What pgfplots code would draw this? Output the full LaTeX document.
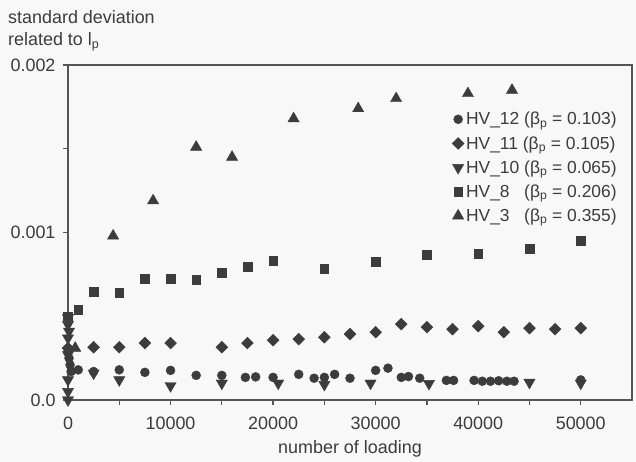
\documentclass[border=0pt]{standalone}
\usepackage{fontspec}
\setmainfont{Liberation Sans}
\usepackage{pgfplots}
\pgfplotsset{compat=1.18}
\usetikzlibrary{calc,backgrounds}
\definecolor{ink}{RGB}{60,60,60}
\definecolor{axisgray}{RGB}{85,85,85}
\definecolor{paper}{RGB}{248,248,248}

\begin{document}
\begin{tikzpicture}[font=\fontsize{18}{22}\selectfont]
\begin{axis}[
  scale only axis, width=564bp, height=335bp,
  xmin=0, xmax=55000, ymin=0, ymax=0.002,
  clip=false,
  axis line style={axisgray, line width=1.6bp},
  tick style={axisgray, line width=1.3bp},
  tick align=outside, major tick length=5bp, minor tick length=5bp,
  xtick pos=bottom, ytick pos=left,
  xtick={0,10000,20000,30000,40000,50000},
  xticklabels={0,10000,20000,30000,40000,50000},
  minor xtick={5000,15000,25000,35000,45000},
  ytick={0,0.001,0.002}, yticklabels={0.0,0.001,0.002},
  minor ytick={0.0005,0.0015},
  scaled ticks=false,
  ticklabel style={text=ink},
  x tick label style={yshift=-8bp},
  y tick label style={xshift=-4bp},
  xlabel={number of loading},
  xlabel style={text=ink, yshift=-4bp},
  ylabel={standard deviation\\related to l\textsubscript{p}},
  ylabel style={at={(rel axis cs:0,1)}, rotate=-90, anchor=south west, align=left,
    xshift=-60bp, yshift=14bp, inner sep=0pt, text=ink},
  legend cell align=left,
  legend style={at={(rel axis cs:0.982,0.87)}, anchor=north east, draw=none, fill=none,
    text=ink, font=\fontsize{17.5}{20}\selectfont, row sep=7bp,
    nodes={inner ysep=1.5bp, inner xsep=2bp}},
  mk/.style={only marks, color=ink,
    legend image code/.code={\draw[##1] plot coordinates {(0bp,0bp)};}},
]
% HV_12
\addplot[mk, mark=*, mark size=4.5bp] coordinates {
  (0,0.00029) (100,0.00025) (200,0.00021) (300,0.00017) (1000,0.00018)
  (2500,0.00017) (5000,0.00018) (7500,0.000165) (10000,0.000177) (12500,0.000147)
  (15000,0.000147) (17300,0.000135) (18300,0.000138) (20000,0.000135) (22500,0.000153)
  (24000,0.00013) (25000,0.000135) (26000,0.000153) (27500,0.00013) (30000,0.000177)
  (31200,0.00019) (32500,0.000135) (33200,0.00014) (34300,0.00013) (36900,0.000117)
  (37600,0.000117) (39600,0.000117) (40400,0.000112) (41200,0.000112) (42000,0.000115)
  (42800,0.000112) (43500,0.000112) (50000,0.00012)
};
\addlegendentry{HV\_12 (β\textsubscript{p} = 0.103)}
% HV_11
\addplot[mk, mark=square*, mark size=4.2bp, mark options={rotate=45}] coordinates {
  (0,0.00031) (2500,0.000315) (5000,0.000315) (7500,0.00034) (10000,0.00034)
  (15000,0.000315) (17500,0.00034) (20000,0.000357) (22500,0.000363) (25000,0.000375)
  (27500,0.000393) (30000,0.000405) (32500,0.000453) (35000,0.000435) (37500,0.000423)
  (40000,0.000441) (42500,0.000405) (45000,0.000429) (47500,0.000423) (50000,0.000429)
};
\addlegendentry{HV\_11 (β\textsubscript{p} = 0.105)}
% HV_10
\addplot[mk, mark=triangle*, mark size=6.5bp, mark options={rotate=180}] coordinates {
  (0,0.00049) (0,0.00045) (100,0.00041) (0,0.00037) (0,0.00027) (0,0.00012)
  (0,0.00005) (0,0.0) (2500,0.00016) (5000,0.00012) (10000,0.000085)
  (15000,0.0001) (20500,0.0001) (25000,0.000092) (29500,0.0001) (35200,0.000098)
  (45000,0.000105) (50000,0.0001)
};
\addlegendentry{HV\_10 (β\textsubscript{p} = 0.065)}
% HV_8
\addplot[mk, mark=square*, mark size=4.3bp] coordinates {
  (0,0.0005) (1000,0.000538) (2500,0.000646) (5000,0.00064) (7500,0.000724)
  (10000,0.000724) (12500,0.000718) (15000,0.00076) (17500,0.000796) (20000,0.000832)
  (25000,0.000784) (30000,0.000826) (35000,0.000868) (40000,0.000874) (45000,0.000904)
  (50000,0.000952)
};
\addlegendentry{HV\_8\phantom{0} (β\textsubscript{p} = 0.206)}
% HV_3
\addplot[mk, mark=triangle*, mark size=6.5bp] coordinates {
  (700,0.00031) (4400,0.00098) (8300,0.00119) (12500,0.00151) (16000,0.00145)
  (22000,0.00168) (28300,0.00174) (32000,0.0018) (39000,0.00183) (43300,0.00185)
};
\addlegendentry{HV\_3\phantom{0} (β\textsubscript{p} = 0.355)}
\end{axis}
\pgfresetboundingbox
\begin{scope}[on background layer]
\fill[paper] ($(current axis.south west)+(-68bp,-62bp)$) rectangle ($(current axis.north east)+(4bp,65bp)$);
\end{scope}
\end{tikzpicture}
\end{document}
